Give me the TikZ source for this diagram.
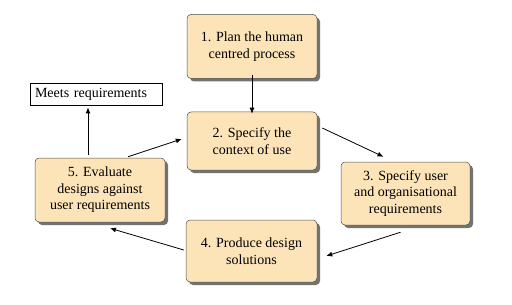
\documentclass[tikz,border=0pt]{standalone}
\usepackage{fontspec}
\setmainfont{Liberation Serif}
\usepackage{xcolor}
\usetikzlibrary{arrows.meta,shadows}
\definecolor{peach}{RGB}{252,228,184}

\begin{document}
\begin{tikzpicture}[x=1pt,y=-1pt,
   stagebox/.style={draw=black!70,line width=0.5pt,fill=peach,rounded corners=4pt,
      minimum width=130pt,minimum height=62pt,align=center,
      font=\fontsize{14}{16.5}\selectfont,
      drop shadow={shadow xshift=3pt,shadow yshift=-3pt,fill=black!55,opacity=1}},
   outbox/.style={draw=black,line width=0.8pt,fill=white,minimum width=132pt,
      minimum height=22pt,inner xsep=5pt,text width=122pt,align=left,
      font=\fontsize{14}{16.5}\selectfont},
   arr/.style={line width=0.8pt,-{Latex[length=6pt,width=5pt]}}]
   \useasboundingbox (0,0) rectangle (512,305);

   % the five stages
   \node[stagebox,minimum height=64pt] (plan) at (252,46.5) {1. Plan the human\\centred process};
   \node[stagebox,minimum height=58pt] (context) at (252,141) {2. Specify the\\context of use};
   \node[stagebox,minimum width=129pt,minimum height=63pt] (require) at (405.5,193.5) {3. Specify user\\and organisational\\requirements};
   \node[stagebox,minimum width=131pt] (produce) at (251.5,251) {4. Produce design\\solutions};
   \node[stagebox,minimum height=64pt] (evaluate) at (100,190) {5. Evaluate\\designs against\\user requirements};

   % exit
   \node[outbox] (meets) at (96,94) {Meets requirements};

   % cycle
   \draw[arr] ([yshift=4pt]plan.south) -- ([yshift=-2pt]context.north);
   \draw[arr] ([shift={(5,-13)}]context.east) -- ([shift={(-22,-5)}]require.north);
   \draw[arr] ([shift={(-5,7)}]require.south) -- ([shift={(9,5)}]produce.east);
   \draw[arr] ([shift={(-2,-1)}]produce.west) -- ([shift={(10,6)}]evaluate.south);
   \draw[arr] ([shift={(28,-1)}]evaluate.north) -- ([shift={(-5,-2)}]context.west);
   \draw[arr] ([shift={(-12,-3)}]evaluate.north) -- ([shift={(-8,2)}]meets.south);
\end{tikzpicture}
\end{document}
